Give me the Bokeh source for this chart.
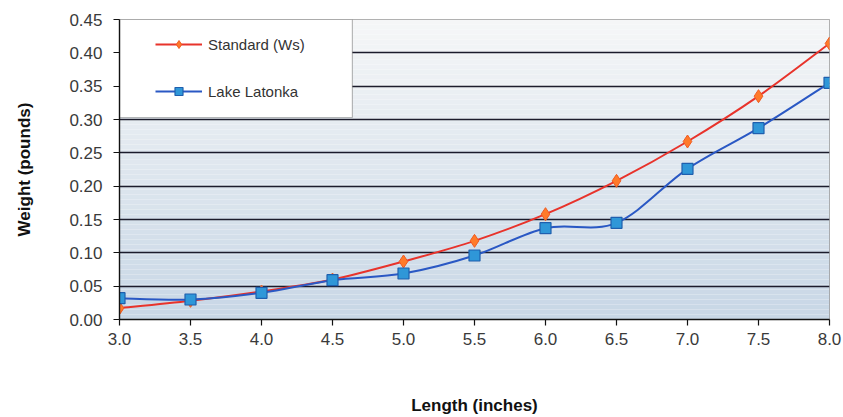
from bokeh.plotting import figure
from bokeh.models import Range1d, SingleIntervalTicker, Legend, LegendItem, BoxAnnotation, NumeralTickFormatter
from bokeh.embed import file_html
from bokeh.resources import INLINE
import numpy as np

lengths = [3.0, 3.5, 4.0, 4.5, 5.0, 5.5, 6.0, 6.5, 7.0, 7.5, 8.0]
standard_ws = [0.017, 0.028, 0.042, 0.060, 0.087, 0.118, 0.158, 0.208, 0.267, 0.335, 0.414]
lake_latonka = [0.032, 0.030, 0.040, 0.059, 0.069, 0.096, 0.137, 0.145, 0.226, 0.287, 0.355]
y_ticks = [0.00, 0.05, 0.10, 0.15, 0.20, 0.25, 0.30, 0.35, 0.40, 0.45]

FONT = "Liberation Sans"

p = figure(width=843, height=417, output_backend="svg", toolbar_location=None,
           x_range=Range1d(3.0, 8.0), y_range=Range1d(0.0, 0.45),
           min_border_left=119, min_border_right=14, min_border_top=19, min_border_bottom=98)
p.background_fill_color = "white"
p.border_fill_color = "white"
p.outline_line_color = "#9a9a9a"
p.outline_line_width = 1

# gradient background bands
n = 60
edges = np.linspace(0.0, 0.45, n + 1)
c_bot = np.array([0xc8, 0xd7, 0xe6])
c_top = np.array([0xf6, 0xf7, 0xf8])
cols = []
for i in range(n):
    t = (i + 0.5) / n
    c = (c_bot * (1 - t) + c_top * t).astype(int)
    cols.append("#%02x%02x%02x" % tuple(c))
p.quad(left=3.0, right=8.0, bottom=edges[:-1], top=edges[1:], color=cols, line_width=0, level="image")

# grid
p.xgrid.visible = False
p.ygrid.grid_line_color = "#1c1c2c"
p.ygrid.grid_line_width = 1.7
p.ygrid.level = "underlay"
p.yaxis.ticker = y_ticks

# legend box
p.add_layout(BoxAnnotation(left=3.0, right=4.64, bottom=0.303, top=0.45,
                           fill_color="white", fill_alpha=1.0,
                           line_color="#222222", line_width=1.2, level="underlay"))


def smooth(xs, ys):
    xs = np.asarray(xs, float); ys = np.asarray(ys, float)
    m = len(xs)
    x0, y0, x1, y1, cx0, cy0, cx1, cy1 = [], [], [], [], [], [], [], []
    for i in range(m - 1):
        pm = (xs[max(i - 1, 0)], ys[max(i - 1, 0)])
        pa = (xs[i], ys[i]); pb = (xs[i + 1], ys[i + 1])
        pn = (xs[min(i + 2, m - 1)], ys[min(i + 2, m - 1)])
        x0.append(pa[0]); y0.append(pa[1]); x1.append(pb[0]); y1.append(pb[1])
        cx0.append(pa[0] + (pb[0] - pm[0]) / 6); cy0.append(pa[1] + (pb[1] - pm[1]) / 6)
        cx1.append(pb[0] - (pn[0] - pa[0]) / 6); cy1.append(pb[1] - (pn[1] - pa[1]) / 6)
    return dict(x0=x0, y0=y0, x1=x1, y1=y1, cx0=cx0, cy0=cy0, cx1=cx1, cy1=cy1)

RED = "#e8332b"
BLUE = "#2a58c4"

p.bezier(**smooth(lengths, standard_ws), line_color=RED, line_width=2)
p.bezier(**smooth(lengths, lake_latonka), line_color=BLUE, line_width=2)
# degenerate (zero-length) lines used only as legend swatches
l1 = p.line([lengths[0], lengths[0]], [standard_ws[0], standard_ws[0]], line_color=RED, line_width=2)
l2 = p.line([lengths[0], lengths[0]], [lake_latonka[0], lake_latonka[0]], line_color=BLUE, line_width=2)
s1 = p.scatter(lengths, standard_ws, marker="diamond", size=13, fill_color="#ff7a2a",
               line_color="#f05a20", line_width=1)
s2 = p.scatter(lengths, lake_latonka, marker="square", size=11, fill_color="#2f97d8",
               line_color="#1f5fae", line_width=1.2)

legend = Legend(items=[LegendItem(label="Standard (Ws)", renderers=[l1, s1]),
                       LegendItem(label="Lake Latonka", renderers=[l2, s2])],
                location=(26, 208), glyph_width=47, glyph_height=20, spacing=27,
                padding=10, margin=0, label_standoff=6,
                label_text_font=FONT, label_text_font_size="15px", label_text_color="#333333",
                border_line_alpha=0, background_fill_alpha=0)
p.add_layout(legend)

# axes
p.xaxis.ticker = SingleIntervalTicker(interval=0.5)
p.xaxis.formatter = NumeralTickFormatter(format="0.0")
p.yaxis.formatter = NumeralTickFormatter(format="0.00")
for ax in (p.xaxis, p.yaxis):
    ax.axis_line_color = "#111111"
    ax.axis_line_width = 1.4
    ax.major_tick_line_color = "#111111"
    ax.major_tick_line_width = 1.2
    ax.major_tick_out = 6
    ax.major_tick_in = 0
    ax.minor_tick_line_color = None
    ax.major_label_text_font = FONT
    ax.major_label_text_font_size = "17px"
    ax.major_label_text_color = "#3a3a3a"
    ax.axis_label_text_font = FONT
    ax.axis_label_text_font_size = "17px"
    ax.axis_label_text_font_style = "bold"
    ax.axis_label_text_color = "#111111"

p.xaxis.axis_label = "Length (inches)"
p.yaxis.axis_label = "Weight (pounds)"
p.xaxis.major_label_standoff = 7
p.yaxis.major_label_standoff = 11
p.xaxis.axis_label_standoff = 48
p.yaxis.axis_label_standoff = 32

open("out.html", "w").write(file_html(p, INLINE))
